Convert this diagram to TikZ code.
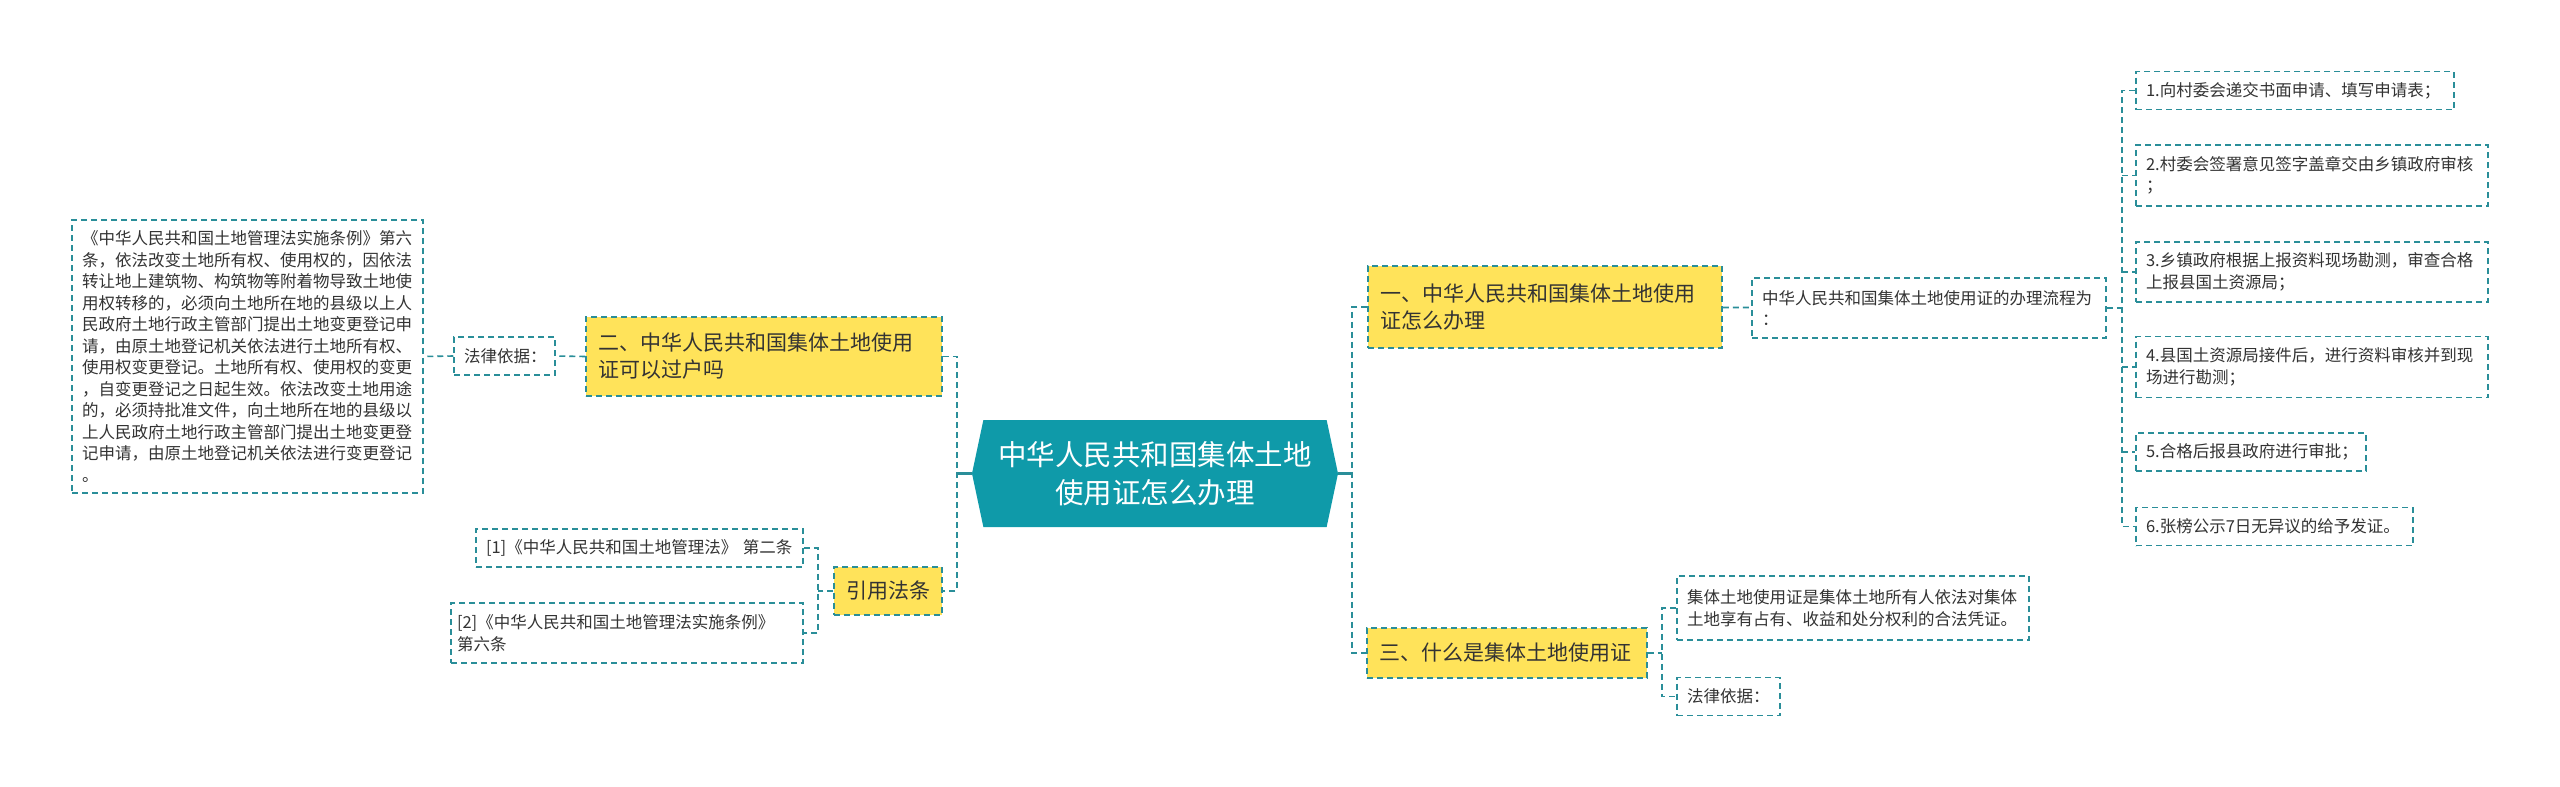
\documentclass[tikz,border=0pt]{standalone}
\usepackage{fontspec}
\setmainfont{Noto Sans CJK SC}
\usepackage{xcolor}
\usetikzlibrary{shapes.symbols}
\definecolor{rootteal}{HTML}{0F9AA9}
\definecolor{linkteal}{HTML}{2A8E99}
\definecolor{topicyellow}{HTML}{FFE35A}
\definecolor{inktext}{HTML}{333333}

\begin{document}
\begin{tikzpicture}[x=1pt, y=-1pt,
    root/.style={signal, signal to=west and east, signal pointer angle=156, fill=rootteal, text=white, align=center, font=\fontsize{28.5pt}{38pt}\selectfont, minimum width=366pt, minimum height=107pt, inner sep=0pt},
    topic/.style={rectangle, draw=linkteal, line width=1.5pt, dash pattern=on 6pt off 4pt, fill=topicyellow, text=inktext, align=left, font=\fontsize{21pt}{27pt}\selectfont, inner xsep=12pt, inner ysep=0pt},
    leaf/.style={rectangle, draw=linkteal, line width=1.5pt, dash pattern=on 6pt off 4pt, fill=white, text=inktext, align=left, font=\fontsize{16.5pt}{21.5pt}\selectfont, inner xsep=10pt, inner ysep=0pt},
    link/.style={draw=linkteal, line width=1.6pt, dash pattern=on 6pt off 4pt},
    rootlink/.style={draw=linkteal, line width=2.5pt}
]
    \useasboundingbox[fill=white] (0,0) rectangle (2560,787);

    % centre
    \node[root] (root) at (1155, 473.5) {中华人民共和国集体土地\\使用证怎么办理};

    % right: how to apply
    \node[topic, text width=330pt, minimum height=82pt] (apply) at (1545, 307) {一、中华人民共和国集体土地使用\\证怎么办理};
    \node[leaf, text width=334pt, minimum height=60pt] (flow) at (1929, 308) {中华人民共和国集体土地使用证的办理流程为\\：};
    \node[leaf, text width=298pt, minimum height=38pt] (s1) at (2295, 90.5) {1.向村委会递交书面申请、填写申请表；};
    \node[leaf, text width=332pt, minimum height=61pt] (s2) at (2312, 175.5) {2.村委会签署意见签字盖章交由乡镇政府审核\\；};
    \node[leaf, text width=332pt, minimum height=60pt] (s3) at (2312, 272) {3.乡镇政府根据上报资料现场勘测，审查合格\\上报县国土资源局；};
    \node[leaf, text width=332pt, minimum height=61pt] (s4) at (2312, 367) {4.县国土资源局接件后，进行资料审核并到现\\场进行勘测；};
    \node[leaf, text width=210pt, minimum height=38pt] (s5) at (2251, 452) {5.合格后报县政府进行审批；};
    \node[leaf, text width=257pt, minimum height=38pt] (s6) at (2274.5, 526.5) {6.张榜公示7日无异议的给予发证。};

    % right: what it is
    \node[topic, text width=256pt, minimum height=50pt] (what) at (1507, 653) {三、什么是集体土地使用证};
    \node[leaf, text width=332pt, minimum height=64pt] (meaning) at (1853, 608) {集体土地使用证是集体土地所有人依法对集体\\土地享有占有、收益和处分权利的合法凭证。};
    \node[leaf, text width=83pt, minimum height=38pt] (whatlaw) at (1728.5, 696.5) {法律依据：};

    % left: transfer
    \node[topic, text width=332pt, minimum height=79pt] (transfer) at (764, 356.5) {二、中华人民共和国集体土地使用\\证可以过户吗};
    \node[leaf, text width=81pt, minimum height=38pt] (translaw) at (504.5, 356) {法律依据：};
    \node[leaf, text width=331pt, minimum height=273pt] (transtext) at (247.5, 356.5) {《中华人民共和国土地管理法实施条例》第六\\条，依法改变土地所有权、使用权的，因依法\\转让地上建筑物、构筑物等附着物导致土地使\\用权转移的，必须向土地所在地的县级以上人\\民政府土地行政主管部门提出土地变更登记申\\请，由原土地登记机关依法进行土地所有权、\\使用权变更登记。土地所有权、使用权的变更\\，自变更登记之日起生效。依法改变土地用途\\的，必须持批准文件，向土地所在地的县级以\\上人民政府土地行政主管部门提出土地变更登\\记申请，由原土地登记机关依法进行变更登记\\。};

    % left: cited laws
    \node[topic, text width=84pt, minimum height=48pt] (cite) at (888, 591) {引用法条};
    \node[leaf, text width=307pt, minimum height=38pt] (law1) at (639.5, 548) {[1]《中华人民共和国土地管理法》 第二条};
    \node[leaf, text width=340pt, minimum height=60pt, inner xsep=6pt] (law2) at (627, 633) {[2]《中华人民共和国土地管理法实施条例》\\第六条};

    % connectors
    \draw[rootlink] (root.west) -- ++(-15,0) coordinate (lbus);
    \draw[rootlink] (root.east) -- ++(14,0) coordinate (rbus);
    \draw[link] (transfer.east) -| (lbus) |- (cite.east);
    \draw[link] (apply.west) -| (rbus) |- (what.west);
    \draw[link] (apply) -- (flow);
    \coordinate (sbus) at (2122, 308);
    \draw[link] (flow.east) -- (sbus);
    \draw[link] (s1.west) -| (sbus) |- (s6.west);
    \foreach \s in {s2, s3, s4, s5}
        \draw[link] (sbus |- \s.west) -- (\s.west);
    \coordinate (cbus) at (1662, 653);
    \draw[link] (what.east) -- (cbus);
    \draw[link] (meaning.west) -| (cbus) |- (whatlaw.west);
    \draw[link] (transfer.west) -- (translaw.east);
    \draw[link] (translaw.west) -- (transtext.east);
    \coordinate (fbus) at (818, 591);
    \draw[link] (cite.west) -- (fbus);
    \draw[link] (law1.east) -| (fbus) |- (law2.east);
\end{tikzpicture}
\end{document}
